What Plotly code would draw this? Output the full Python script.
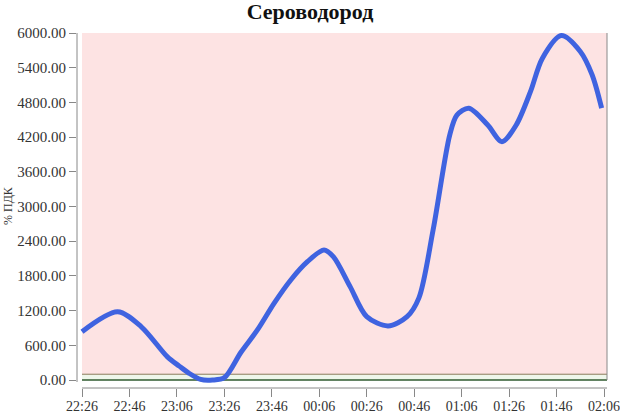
import plotly.graph_objects as go
from datetime import datetime, timedelta

# ---- data ----
times = ["2023-01-01 22:26", "2023-01-01 22:41", "2023-01-01 22:51", "2023-01-01 23:02",
         "2023-01-01 23:07", "2023-01-01 23:11", "2023-01-01 23:16", "2023-01-01 23:21",
         "2023-01-01 23:26", "2023-01-01 23:33", "2023-01-01 23:40", "2023-01-01 23:47",
         "2023-01-01 23:54", "2023-01-02 00:01", "2023-01-02 00:08", "2023-01-02 00:12",
         "2023-01-02 00:19", "2023-01-02 00:26", "2023-01-02 00:35", "2023-01-02 00:43",
         "2023-01-02 00:48", "2023-01-02 00:54",
         "2023-01-02 01:01", "2023-01-02 01:04", "2023-01-02 01:09", "2023-01-02 01:17",
         "2023-01-02 01:23", "2023-01-02 01:29", "2023-01-02 01:35", "2023-01-02 01:40",
         "2023-01-02 01:48", "2023-01-02 01:56", "2023-01-02 02:01", "2023-01-02 02:05"]
values = [835, 1180, 920, 400,
          240, 120, 10, 0,
          40, 480, 870, 1330,
          1730, 2045, 2250, 2130,
          1615, 1095, 935, 1095,
          1420, 2600,
          4240, 4580, 4700, 4410,
          4120, 4410, 4985, 5560,
          5955, 5680, 5275, 4700]
y_ticks = [0, 600, 1200, 1800, 2400, 3000, 3600, 4200, 4800, 5400, 6000]
title = "Сероводород"
y_title = "% ПДК"
warn_level = 100
y_max = 6000

# ---- layout geometry (pixels) ----
W, H = 620, 413
L, R, T, B = 77, 13, 33, 25
pw, ph = W - L - R, H - T - B

def px_x(p):
    return (p - L) / pw

def px_y(p):
    return (H - B - p) / ph

start = datetime(2023, 1, 1, 22, 26)
end = datetime(2023, 1, 2, 2, 6)
min_per_px = 20 / 47.45
x_range = [start - timedelta(minutes=5 * min_per_px), end + timedelta(minutes=3 * min_per_px)]
y_per_px = y_max / 347.0
y_range = [-8 * y_per_px, y_max]

fig = go.Figure()
fig.add_trace(go.Scatter(
    x=times, y=values, mode="lines",
    line=dict(color="#3f63e0", width=5, shape="spline", smoothing=0.85),
    hoverinfo="skip", showlegend=False,
))

shapes = [
    dict(type="rect", xref="paper", yref="y", x0=px_x(82), x1=1, y0=warn_level, y1=y_max,
         fillcolor="#fde3e3", line=dict(width=0), layer="below"),
    dict(type="rect", xref="paper", yref="y", x0=px_x(82), x1=1, y0=0, y1=warn_level,
         fillcolor="#eef6ea", line=dict(width=0), layer="below"),
    dict(type="line", xref="paper", yref="y", x0=px_x(82), x1=1, y0=warn_level, y1=warn_level,
         line=dict(color="#8a7a5a", width=1), layer="below"),
    dict(type="line", xref="paper", yref="y", x0=px_x(82), x1=1, y0=0, y1=0,
         line=dict(color="#2f5a2f", width=1.5), layer="below"),
    dict(type="line", xref="paper", yref="paper", x0=1, x1=1, y0=px_y(380), y1=1,
         line=dict(color="#888888", width=1)),
    dict(type="line", xref="paper", yref="paper", x0=0, x1=0, y0=px_y(382), y1=1,
         line=dict(color="#888888", width=1)),
    dict(type="line", xref="paper", yref="paper", x0=px_x(82), x1=1, y0=0, y1=0,
         line=dict(color="#888888", width=1)),
]

fig.update_layout(
    width=W, height=H,
    margin=dict(l=L, r=R, t=T, b=B, pad=0, autoexpand=False),
    paper_bgcolor="white", plot_bgcolor="white",
    title=dict(text="<b>" + title + "</b>", x=0.5, xanchor="center", y=1 - 11 / H, yanchor="middle",
               font=dict(family="Liberation Serif", size=22, color="#111111")),
    font=dict(family="Liberation Serif", size=14, color="#333333"),
    shapes=shapes,
    annotations=[dict(text=y_title, xref="paper", yref="paper", x=px_x(8), y=px_y(206),
                      textangle=-90, showarrow=False, xanchor="center", yanchor="middle",
                      font=dict(family="Liberation Serif", size=12, color="#333333"))],
)
fig.update_xaxes(
    type="date", range=x_range, tick0=times[0], dtick=20 * 60 * 1000, tickformat="%H:%M",
    showgrid=False, zeroline=False, showline=False, automargin=False,
    ticks="outside", ticklen=8, tickcolor="#888888",
    ticklabeloverflow="allow", ticklabelstandoff=-3,
    tickfont=dict(family="Liberation Serif", size=14, color="#333333"),
)
fig.update_yaxes(
    range=y_range, tickvals=y_ticks, tickformat=".2f",
    showgrid=False, zeroline=False, showline=False, automargin=False,
    ticks="outside", ticklen=7, tickcolor="#888888",
    tickfont=dict(family="Liberation Serif", size=15, color="#333333"),
)

fig.write_html("out.html", config={"displayModeBar": False},
               post_script="document.body.style.margin='0';document.body.style.overflow='hidden';")
